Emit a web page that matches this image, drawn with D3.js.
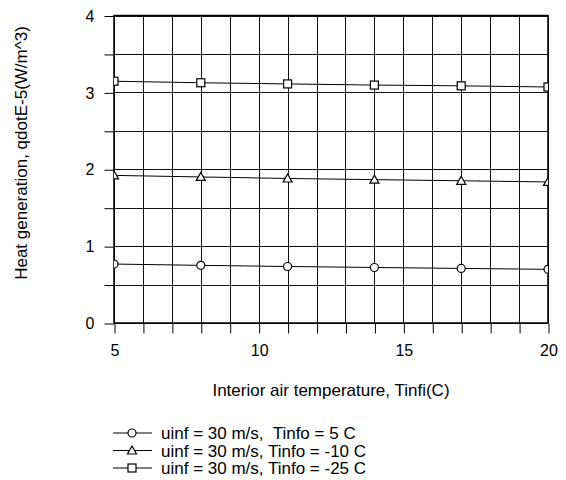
<!DOCTYPE html>
<html><head><meta charset="utf-8">
<script src="https://cdn.jsdelivr.net/npm/d3@7"></script>
<style>body{margin:0;background:#fff}svg{display:block}</style>
</head><body>
<script>
const xValues = [5, 8, 11, 14, 17, 20];
const series1 = [0.767, 0.75, 0.735, 0.722, 0.71, 0.698];
const series2 = [1.92, 1.90, 1.88, 1.865, 1.85, 1.835];
const series3 = [3.145, 3.125, 3.11, 3.095, 3.085, 3.07];
const seriesNames = ["uinf = 30 m/s,  Tinfo = 5 C", "uinf = 30 m/s, Tinfo = -10 C", "uinf = 30 m/s, Tinfo = -25 C"];
const markers = ["circle", "triangle", "square"];
const xTickLabels = [5, 10, 15, 20];
const yTickLabels = [0, 1, 2, 3, 4];

const W = 566, H = 480;
const m = {left: 114, right: 18, top: 15.5, bottom: 157};
const FONT = "Arial, 'Liberation Sans', sans-serif";
const svg = d3.select("body").append("svg").attr("width", W).attr("height", H)
  .style("font-family", FONT);

const x = d3.scaleLinear().domain([5, 20]).range([m.left, W - m.right]);
const y = d3.scaleLinear().domain([0, 4]).range([H - m.bottom, m.top]);

const gridX = d3.range(5, 21, 1);
const gridY = d3.range(0, 4.01, 0.5);

// grid
svg.append("g").selectAll("line").data(gridX).join("line")
  .attr("x1", d => Math.round(x(d)) + 0.5).attr("x2", d => Math.round(x(d)) + 0.5)
  .attr("y1", y(4)).attr("y2", y(0)).attr("stroke", "#111").attr("stroke-width", 1);
svg.append("g").selectAll("line").data(gridY).join("line")
  .attr("y1", d => Math.round(y(d)) + 0.5).attr("y2", d => Math.round(y(d)) + 0.5)
  .attr("x1", x(5)).attr("x2", x(20)).attr("stroke", "#111").attr("stroke-width", 1);

// axes
const xAxis = d3.axisBottom(x).tickValues(gridX).tickSize(10).tickPadding(11)
  .tickFormat(d => xTickLabels.includes(d) ? d : "");
const gx = svg.append("g").attr("transform", `translate(0.5,${Math.round(y(0)) + 0.5})`).call(xAxis);
const yAxis = d3.axisLeft(y).tickValues(gridY).tickSize(10).tickPadding(10)
  .tickFormat(d => yTickLabels.includes(d) ? d : "");
const gy = svg.append("g").attr("transform", `translate(${Math.round(x(5)) + 0.5},0.5)`).call(yAxis);
[gx, gy].forEach(g => {
  g.selectAll(".tick line").attr("stroke", "#000");
  g.selectAll(".tick text").attr("font-size", 16).attr("fill", "#000").attr("font-family", FONT);
  g.select(".domain").remove();
});
svg.append("rect").attr("x", x(5)).attr("y", y(4)).attr("width", x(20) - x(5)).attr("height", y(0) - y(4))
  .attr("fill", "none").attr("stroke", "#000").attr("stroke-width", 1.5);

// clip
svg.append("clipPath").attr("id", "clip").append("rect")
  .attr("x", x(5)).attr("y", y(4)).attr("width", x(20) - x(5)).attr("height", y(0) - y(4));

function drawMarker(g, type, cx, cy) {
  if (type === "circle") g.append("circle").attr("cx", cx).attr("cy", cy).attr("r", 4);
  else if (type === "square") g.append("rect").attr("x", cx - 4).attr("y", cy - 4).attr("width", 8).attr("height", 8);
  else g.append("path").attr("d", `M${cx},${cy - 4.5}L${cx + 4.5},${cy + 3.5}L${cx - 4.5},${cy + 3.5}Z`);
}

const allSeries = [series1, series2, series3];
const plot = svg.append("g").attr("clip-path", "url(#clip)");
const line = d3.line().x((d, i) => x(xValues[i])).y(d => y(d));
allSeries.forEach((s, k) => {
  plot.append("path").datum(s).attr("d", line).attr("fill", "none").attr("stroke", "#000").attr("stroke-width", 1);
  const mg = plot.append("g").attr("fill", "#fff").attr("stroke", "#000").attr("stroke-width", 1.2);
  s.forEach((v, i) => drawMarker(mg, markers[k], x(xValues[i]), y(v)));
});

// axis titles
svg.append("text").attr("x", 331).attr("y", 396).attr("text-anchor", "middle").attr("font-size", 17)
  .text("Interior air temperature, Tinfi(C)");
svg.append("text").attr("transform", "translate(27,153) rotate(-90)").attr("text-anchor", "middle").attr("font-size", 17)
  .text("Heat generation, qdotE-5(W/m^3)");

// legend
const lg = svg.append("g");
seriesNames.forEach((name, k) => {
  const cy = 433 + k * 17.5;
  lg.append("line").attr("x1", 113).attr("x2", 152).attr("y1", cy).attr("y2", cy).attr("stroke", "#000");
  const mg = lg.append("g").attr("fill", "#fff").attr("stroke", "#000").attr("stroke-width", 1.2);
  drawMarker(mg, markers[k], 132, cy);
  lg.append("text").attr("x", 161).attr("y", cy + 6).attr("font-size", 17).style("white-space", "pre").text(name);
});
</script>
</body></html>
